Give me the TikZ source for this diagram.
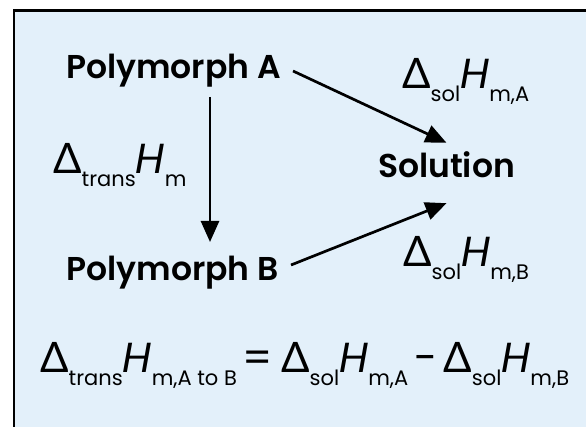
\documentclass[tikz,border=0pt]{standalone}
\usepackage{fontspec}
\setmainfont{Poppins}[BoldFont={Poppins SemiBold}]
\newfontfamily\dfont{Lato}
\usetikzlibrary{arrows.meta}
\definecolor{bgblue}{RGB}{227,240,250}
\newcommand{\Dl}{{\dfont Δ}}
\newcommand{\sbs}[1]{\raisebox{-13pt}{\fontsize{21}{21}\selectfont #1}}
\newcommand{\Hit}{{\itshape H}}
\begin{document}
\begin{tikzpicture}[x=1pt,y=1pt,
  boldtxt/.style={font=\fontsize{33}{33}\selectfont\bfseries, inner sep=0pt},
  lbl/.style={font=\fontsize{42}{42}\selectfont, inner sep=0pt, anchor=base west},
  arr/.style={line width=2.7pt, -{Triangle[length=21pt,width=18pt]}}]
\useasboundingbox (0,0) rectangle (586,427);
\draw[line width=2.3pt, fill=bgblue] (14,416.5) rectangle (640,-30);
\node[boldtxt, anchor=base] (pA) at (173.5,348) {Polymorph A};
\node[boldtxt, anchor=base] (pB) at (172.5,146) {Polymorph B};
\node[boldtxt, anchor=base, text height=35pt, text depth=25pt] (sol) at (446.5,249) {Solution};
\node[lbl] (lT) at (53,253) {\Dl\sbs{trans}\Hit\sbs{m}};
\node[lbl] (lA) at (402,338) {\Dl\sbs{sol}\Hit\sbs{m,A}};
\node[lbl] (lB) at (403,160) {\Dl\sbs{sol}\Hit\sbs{m,B}};
\node[lbl] (eq) at (40,54) {\Dl\sbs{trans}\Hit\sbs{m,A to B}\hspace{6pt}=\hspace{8pt}\Dl\sbs{sol}\Hit\sbs{m,A}\hspace{6pt}-\hspace{6pt}\Dl\sbs{sol}\Hit\sbs{m,B}};
\draw[arr] ([xshift=119.5pt,yshift=8pt]pA.base) -- (sol.north);
\draw[arr] ([xshift=118.5pt,yshift=16pt]pB.base) -- (sol.south);
\draw[arr] ([xshift=36.5pt,yshift=-18pt]pA.base) -- ([xshift=37.5pt,yshift=39pt]pB.base);
\end{tikzpicture}
\end{document}
